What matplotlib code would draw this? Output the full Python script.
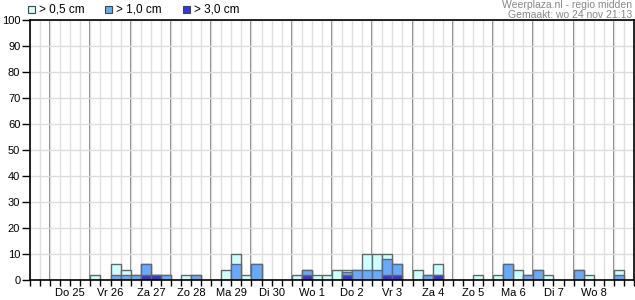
import matplotlib.pyplot as plt
from matplotlib.patches import Rectangle

plt.rcParams['font.family'] = ['Liberation Sans', 'DejaVu Sans']

# 6-hour slots, 60 of them (wo 24 12:00 .. do 9 12:00)
n_slots = 60
days = ["Do 25", "Vr 26", "Za 27", "Zo 28", "Ma 29", "Di 30", "Wo 1",
        "Do 2", "Vr 3", "Za 4", "Zo 5", "Ma 6", "Di 7", "Wo 8"]

# kans (%) per slot, slot -> waarde
kans_05 = {6: 2, 8: 6, 9: 4, 10: 2, 11: 6, 12: 2, 13: 2, 15: 2, 16: 2,
           19: 4, 20: 10, 21: 2, 22: 6, 26: 2, 27: 4, 28: 2, 29: 2, 30: 4,
           31: 4, 32: 4, 33: 10, 34: 10, 35: 10, 36: 6, 38: 4, 39: 2, 40: 6,
           44: 2, 46: 2, 47: 6, 48: 4, 49: 2, 50: 4, 51: 2, 54: 4, 55: 2, 58: 4}
kans_10 = {8: 2, 9: 2, 10: 2, 11: 6, 12: 2, 13: 2, 16: 2, 20: 6, 22: 6,
           27: 4, 31: 3, 32: 4, 33: 4, 34: 4, 35: 8, 36: 6, 39: 2, 40: 2,
           47: 6, 49: 2, 50: 4, 54: 4, 58: 2}
kans_30 = {11: 2, 12: 2, 27: 2, 31: 2, 35: 2, 36: 2, 40: 2}

series = [(kans_05, "#ccffff", "> 0,5 cm"),
          (kans_10, "#66aaff", "> 1,0 cm"),
          (kans_30, "#3333ee", "> 3,0 cm")]

fig = plt.figure(figsize=(6.35, 3.0), dpi=100)
ax = fig.add_axes([30 / 635, 20 / 300, 604 / 635, 260 / 300])

for data, color, label in series:
    xs = list(data.keys())
    ax.bar(xs, list(data.values()), width=1, align='edge', color=color,
           edgecolor="#666666", linewidth=1.0, zorder=3)

ax.set_xlim(0, n_slots)
ax.set_ylim(0, 100)

# grid
ax.set_yticks(range(0, 101, 10))
ax.grid(axis='y', color="#dddddd", linewidth=1.0, zorder=0)
labels = [""] * (n_slots + 1)
for i, d in enumerate(days):
    labels[4 + 4 * i] = d
ax.set_xticks(range(n_slots + 1), labels=labels)
ax.grid(axis='x', color="#e0e0e0", linewidth=1.0, zorder=0)
for b in range(2, n_slots, 4):
    ax.axvline(b, color="#666666", linewidth=1.2, zorder=1)

ax.tick_params(axis='x', length=4, width=1, pad=1.5, labelsize=8, color='black')
ax.tick_params(axis='y', length=6, width=1, pad=1, labelsize=8, color='black')
for s in ax.spines.values():
    s.set_linewidth(1.2)
    s.set_color('black')
    s.set_zorder(4)

# legend
lx = [28, 105, 183]
for (data, color, label), x0 in zip(series, lx):
    fig.patches.append(Rectangle((x0 / 635, 1 - 13 / 300), 7 / 635, 7 / 300,
                                 transform=fig.transFigure, facecolor=color,
                                 edgecolor="#444444", linewidth=0.8))
    fig.text((x0 + 11) / 635, 1 - 9.5 / 300, label, fontsize=8.5,
             va='center', ha='left')

fig.text(632 / 635, 1 - 0.5 / 300, "Weerplaza.nl - regio midden", fontsize=7.5,
         color="#888888", ha='right', va='top')
fig.text(632 / 635, 1 - 9.5 / 300, "Gemaakt: wo 24 nov 21:13", fontsize=7.5,
         color="#888888", ha='right', va='top')

fig.savefig("out.png", dpi=100)
